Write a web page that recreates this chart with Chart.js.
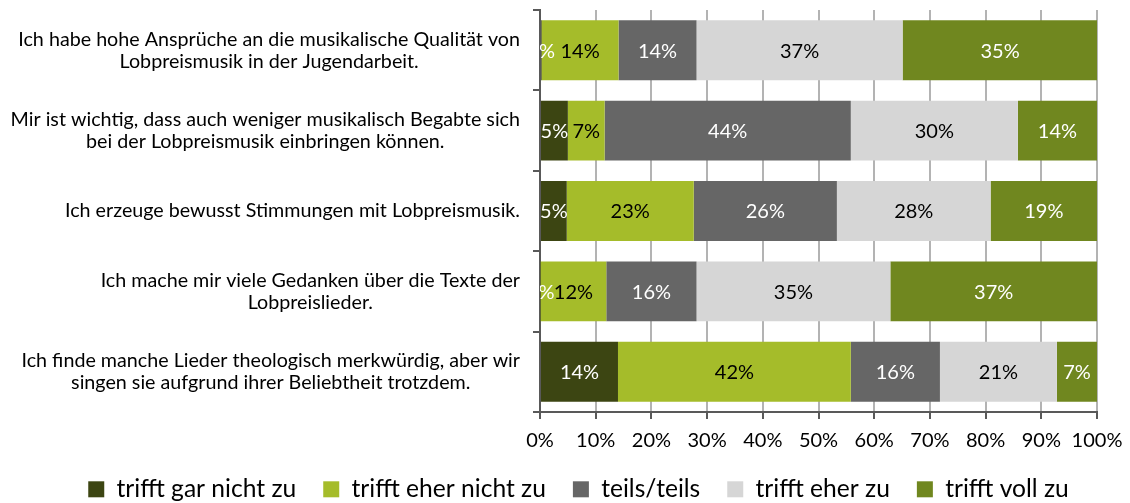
<!DOCTYPE html>
<html><head><meta charset="utf-8">
<script src="https://cdn.jsdelivr.net/npm/chart.js@4"></script>
<style>html,body{margin:0;padding:0;background:#fff}#wrap{width:1130px;height:503px;position:relative}</style>
</head><body><div id="wrap"><canvas id="c"></canvas></div>
<script>
const categories = [
  ["Ich habe hohe Ansprüche an die musikalische Qualität von", "Lobpreismusik in der Jugendarbeit."],
  ["Mir ist wichtig, dass auch weniger musikalisch Begabte sich", "bei der Lobpreismusik einbringen können."],
  ["Ich erzeuge bewusst Stimmungen mit Lobpreismusik."],
  ["Ich mache mir viele Gedanken über die Texte der", "Lobpreislieder."],
  ["Ich finde manche Lieder theologisch merkwürdig, aber wir", "singen sie aufgrund ihrer Beliebtheit trotzdem."]
];
const seriesNames = ["trifft gar nicht zu", "trifft eher nicht zu", "teils/teils", "trifft eher zu", "trifft voll zu"];
const garNicht  = [0.3, 5.0, 4.8, 0.1, 14.0];
const eherNicht = [13.8, 6.6, 22.8, 11.8, 41.8];
const teils     = [14.0, 44.2, 25.7, 16.2, 16.0];
const eherZu    = [37.0, 30.0, 27.6, 34.8, 21.0];
const vollZu    = [35.0, 14.2, 19.1, 37.1, 7.2];
const xTicks = [0, 10, 20, 30, 40, 50, 60, 70, 80, 90, 100];

const colors = ['#3c4512', '#a5bc2a', '#666666', '#d6d6d6', '#70871f'];
const labelColors = ['#ffffff', '#000000', '#ffffff', '#000000', '#ffffff'];
const FONT = 'Lato';

const seriesValues = [garNicht, eherNicht, teils, eherZu, vollZu];

const barLabels = {
  id: 'barLabels',
  afterDatasetsDraw(chart) {
    const ctx = chart.ctx, a = chart.chartArea;
    ctx.save();
    ctx.beginPath();
    ctx.rect(a.left, a.top, a.right - a.left, a.bottom - a.top);
    ctx.clip();
    ctx.font = '20px ' + FONT;
    ctx.textAlign = 'center';
    ctx.textBaseline = 'middle';
    chart.data.datasets.forEach((ds, di) => {
      const meta = chart.getDatasetMeta(di);
      meta.data.forEach((bar, i) => {
        const v = ds.data[i];
        ctx.fillStyle = labelColors[di];
        ctx.fillText(Math.round(v) + '%', (bar.x + bar.base) / 2, bar.y + 1);
      });
    });
    ctx.restore();
  }
};

const catLabels = {
  id: 'catLabels',
  afterDraw(chart) {
    const ctx = chart.ctx, ys = chart.scales.y;
    ctx.save();
    ctx.font = '19.7px ' + FONT;
    ctx.fillStyle = '#000000';
    ctx.textAlign = 'center';
    ctx.textBaseline = 'middle';
    const lh = 22;
    categories.forEach((lines, i) => {
      const yc = ys.getPixelForValue(i);
      const w = Math.max(...lines.map(l => ctx.measureText(l).width));
      const cx = ys.right - 20 - w / 2;
      lines.forEach((l, k) => {
        ctx.fillText(l, cx, yc + (k - (lines.length - 1) / 2) * lh);
      });
    });
    ctx.restore();
  }
};

const legendFit = {
  id: 'legendFit',
  afterInit(chart) {
    const lg = chart.legend;
    if (!lg) return;
    const orig = lg.fit.bind(lg);
    lg.fit = function () { orig(); this.height = 53; };
  }
};

new Chart(document.getElementById('c'), {
  type: 'bar',
  data: {
    labels: categories.map((c, i) => i),
    datasets: seriesNames.map((n, i) => ({
      label: n,
      data: seriesValues[i],
      backgroundColor: colors[i],
      borderWidth: 0,
      barPercentage: 0.745,
      categoryPercentage: 1.0
    }))
  },
  options: {
    indexAxis: 'y',
    responsive: true,
    maintainAspectRatio: false,
    animation: false,
    layout: { padding: { top: 10, right: 33, left: 60, bottom: 0 } },
    scales: {
      x: {
        stacked: true, min: 0, max: 100,
        afterBuildTicks: s => { s.ticks = xTicks.map(v => ({ value: v })); },
        afterFit: s => { s.height = 38; s.paddingLeft = 0; s.paddingRight = 0; },
        ticks: { callback: v => v + '%', font: { family: FONT, size: 20 }, color: '#000', padding: 10, maxRotation: 0, autoSkip: false },
        grid: { color: '#b3b3b3', lineWidth: 2, tickColor: '#595959', tickLength: 7 },
        border: { color: '#595959', width: 2 }
      },
      y: {
        stacked: true,
        afterFit: s => { s.width = 480; },
        ticks: { display: false },
        grid: { drawOnChartArea: false, offset: true, tickLength: 7, tickColor: '#595959', lineWidth: 2 },
        border: { color: '#595959', width: 2 }
      }
    },
    plugins: {
      tooltip: { enabled: false },
      legend: {
        position: 'bottom',
        labels: { boxWidth: 16, boxHeight: 16, padding: 27, color: '#000', font: { family: FONT, size: 24.6 } }
      }
    }
  },
  plugins: [legendFit, barLabels, catLabels]
});
</script></body></html>
